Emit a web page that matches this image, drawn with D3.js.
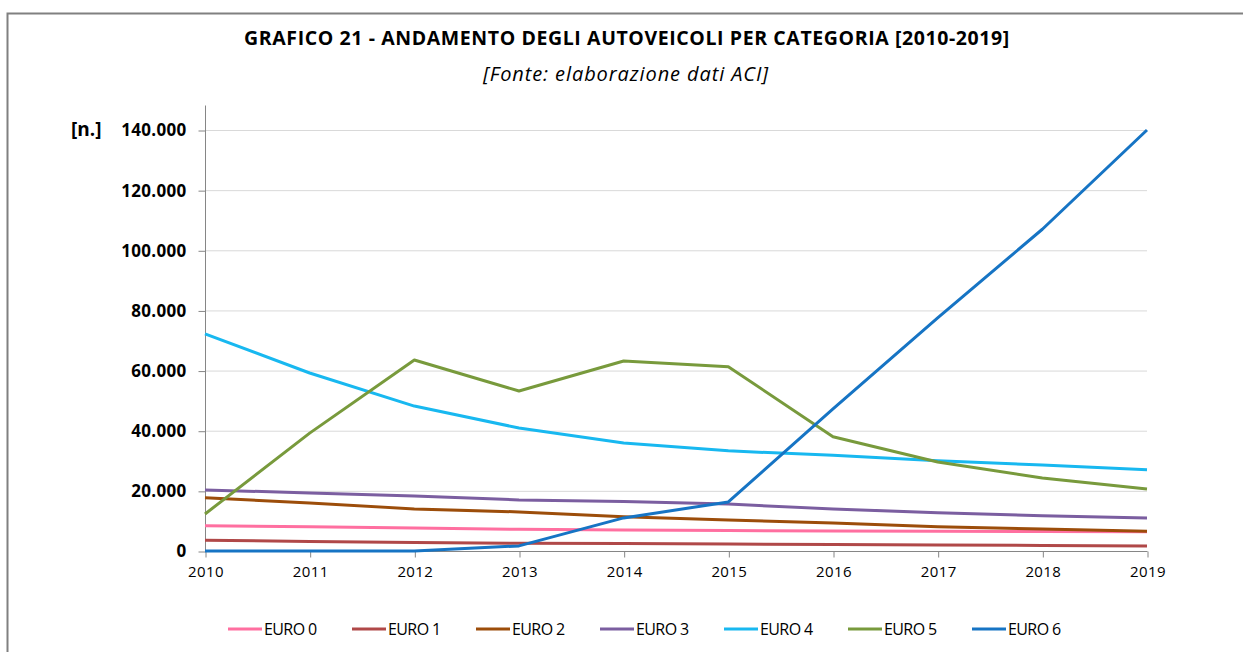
<!DOCTYPE html>
<html>
<head>
<meta charset="utf-8">
<script src="https://cdn.jsdelivr.net/npm/d3@7"></script>
<style>
  body { margin: 0; background: #fff; }
  svg { display: block; font-family: "Open Sans", sans-serif; }
</style>
</head>
<body>
<svg id="chart" width="1243" height="652"></svg>
<script>
// anni sull'asse x
var years = [2010, 2011, 2012, 2013, 2014, 2015, 2016, 2017, 2018, 2019];
var yTicks = [0, 20000, 40000, 60000, 80000, 100000, 120000, 140000];
var seriesNames = ["EURO 0", "EURO 1", "EURO 2", "EURO 3", "EURO 4", "EURO 5", "EURO 6"];
var seriesColors = ["#ff6fa0", "#b04848", "#9c4d0a", "#7b5ea0", "#18b8f0", "#789a3c", "#1674c4"];

var euro0 = [8400, 8100, 7650, 7200, 7000, 6800, 6650, 6550, 6500, 6400];
var euro1 = [3550, 3200, 2800, 2550, 2500, 2300, 2150, 2000, 1850, 1700];
var euro2 = [17700, 16000, 14000, 13000, 11400, 10300, 9300, 8100, 7300, 6600];
var euro3 = [20300, 19300, 18300, 17000, 16500, 15600, 14000, 12700, 11700, 11000];
var euro4 = [72200, 59200, 48200, 40900, 35900, 33300, 31800, 30000, 28600, 27000];
var euro5 = [12300, 39200, 63500, 53200, 63200, 61300, 38000, 29600, 24300, 20600];
var euro6 = [0, 0, 0, 1700, 11000, 16300, 47300, 77500, 107000, 140000];

var seriesValues = [euro0, euro1, euro2, euro3, euro4, euro5, euro6];

window.onload = function(){
    drawChart();
};

function drawChart(){
    let svg = d3.select("#chart");

    // cornice del grafico (solo lato sinistro e alto visibili)
    svg.append("path")
        .attr("d", "M7.5,652 L7.5,13.5 L1243,13.5")
        .attr("fill", "none")
        .attr("stroke", "#808080")
        .attr("stroke-width", 2);

    svg.append("text")
        .attr("x", 627).attr("y", 45)
        .attr("text-anchor", "middle")
        .attr("font-size", 19.5).attr("font-weight", "bold")
        .attr("letter-spacing", 0.6)
        .text("GRAFICO 21 - ANDAMENTO DEGLI AUTOVEICOLI PER CATEGORIA [2010-2019]");

    svg.append("text")
        .attr("x", 626).attr("y", 81)
        .attr("text-anchor", "middle")
        .attr("font-size", 20).attr("font-style", "italic")
        .attr("letter-spacing", 0.9)
        .text("[Fonte: elaborazione dati ACI]");

    let xScale = d3.scaleLinear()
        .domain([2010, 2019])
        .range([205, 1147]);

    let yScale = d3.scaleLinear()
        .domain([0, 140000])
        .range([551, 130]);

    // griglia orizzontale
    svg.append("g").selectAll("line").data(yTicks.slice(1))
        .enter()
        .append("line")
        .attr("x1", 205).attr("x2", 1147)
        .attr("y1", function(d){ return yScale(d) + 0.5; })
        .attr("y2", function(d){ return yScale(d) + 0.5; })
        .attr("stroke", "#d9d9d9")
        .attr("stroke-width", 1);

    let fmt = function(d){
        return d3.format(",")(d).replace(/,/g, ".");
    };

    let yAxis = d3.axisLeft(yScale)
        .tickValues(yTicks)
        .tickFormat(fmt)
        .tickSize(7)
        .tickPadding(12);

    let gy = svg.append("g")
        .attr("transform", "translate(205.5,0.5)")
        .call(yAxis);
    gy.select(".domain").remove();
    gy.append("line")
        .attr("x1", 0).attr("x2", 0)
        .attr("y1", 105).attr("y2", 551)
        .attr("stroke", "#868686");
    gy.selectAll(".tick line").attr("stroke", "#868686");
    gy.selectAll(".tick text")
        .attr("fill", "#000")
        .attr("font-size", 17)
        .attr("font-weight", "bold")
        .attr("letter-spacing", 0.3)
        .attr("font-family", "'Open Sans', sans-serif");

    svg.append("text")
        .attr("x", 71).attr("y", 136)
        .attr("font-size", 19).attr("font-weight", "bold")
        .text("[n.]");

    let xAxis = d3.axisBottom(xScale)
        .tickValues(years)
        .tickFormat(d3.format("d"))
        .tickSize(6)
        .tickPadding(9);

    let gx = svg.append("g")
        .attr("transform", "translate(0.5,551.5)")
        .call(xAxis);
    gx.select(".domain").attr("stroke", "#868686").attr("d", "M205,0H1147");
    gx.selectAll(".tick line").attr("stroke", "#868686");
    gx.selectAll(".tick text")
        .attr("fill", "#000")
        .attr("font-size", 15)
        .attr("letter-spacing", 0.4)
        .attr("font-family", "'Open Sans', sans-serif");

    let line = d3.line()
        .x(function(d, i){ return xScale(years[i]); })
        .y(function(d){ return yScale(d); });

    svg.append("g").selectAll("path").data(seriesValues)
        .enter()
        .append("path")
        .attr("d", function(d){ return line(d); })
        .attr("fill", "none")
        .attr("stroke", function(d, i){ return seriesColors[i]; })
        .attr("stroke-width", 3)
        .attr("stroke-linejoin", "round");

    // legenda
    let legend = svg.append("g").selectAll("g").data(seriesNames)
        .enter()
        .append("g")
        .attr("transform", function(d, i){
            return "translate(" + (228 + i * 124) + ",629)";
        });
    legend.append("line")
        .attr("x1", 0).attr("x2", 34)
        .attr("y1", 0).attr("y2", 0)
        .attr("stroke", function(d, i){ return seriesColors[i]; })
        .attr("stroke-width", 3);
    legend.append("text")
        .attr("x", 36).attr("y", 5.5)
        .attr("font-size", 16)
        .attr("letter-spacing", -0.6)
        .text(function(d){ return d; });
}
</script>
</body>
</html>
